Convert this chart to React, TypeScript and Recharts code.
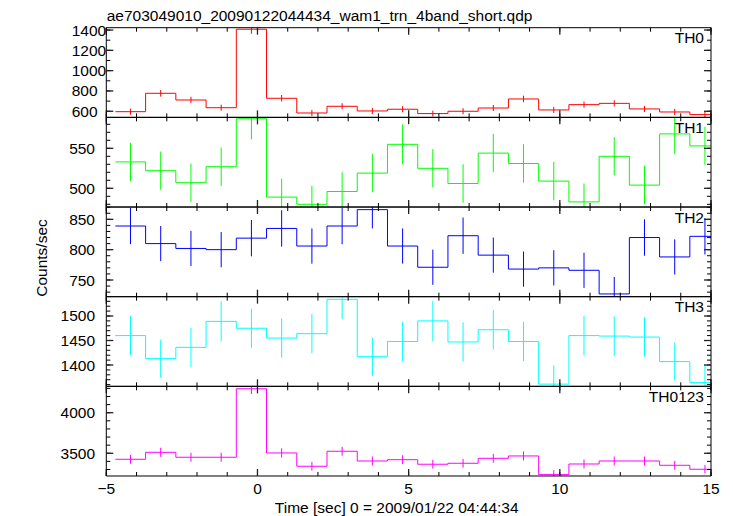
import React from 'react';
import { ComposedChart, Line, Scatter, ErrorBar, XAxis, YAxis } from 'recharts';

const W = 733;
const H = 516;
const FONT = '"Liberation Sans", Arial, Helvetica, sans-serif';
const FS = 15.5;

// plot frame
const PLOT_LEFT = 106.3;
const PLOT_RIGHT = 711;
const PLOT_TOP = 27.7;
const PANEL_H = 89.66;
const EPS = 0.01;

const TITLE = 'ae703049010_20090122044434_wam1_trn_4band_short.qdp';
const X_TITLE = 'Time [sec] 0 = 2009/01/22 04:44:34';
const Y_TITLE = 'Counts/sec';

// 1 s bins
const binCenters = [
  -4.2, -3.2, -2.2, -1.2, -0.2, 0.8, 1.8, 2.8, 3.8, 4.8,
  5.8, 6.8, 7.8, 8.8, 9.8, 10.8, 11.8, 12.8, 13.8, 14.8,
];
const binHalf = 0.5;

const xMajorTicks = [-5, 0, 5, 10, 15];
const xMinorTicks = [-5, -4, -3, -2, -1, 0, 1, 2, 3, 4, 5, 6, 7, 8, 9, 10, 11, 12, 13, 14, 15];

const th0Rate = [596, 777, 711, 635, 1408, 728, 583, 649, 603, 620, 577, 600, 632, 721, 613, 665, 678, 623, 593, 567];
const th0Err = [30, 33, 32, 30, 45, 32, 30, 30, 30, 30, 29, 30, 30, 32, 30, 31, 31, 30, 30, 29];

const th1Rate = [533, 522, 507, 527, 587, 489, 480, 496, 519, 555, 525, 506, 544, 531, 509, 483, 540, 504, 568, 553];
const th1Err = [24, 24, 24, 24, 26, 23, 23, 24, 24, 25, 24, 24, 24, 24, 24, 23, 24, 24, 25, 24];

const th2Rate = [839, 810, 802, 800, 819, 835, 806, 839, 866, 806, 771, 823, 791, 768, 770, 766, 727, 820, 788, 822];
const th2Err = [30, 29, 29, 29, 30, 30, 29, 30, 31, 29, 29, 30, 29, 29, 29, 29, 28, 30, 29, 30];

const th3Rate = [1460, 1413, 1436, 1489, 1475, 1455, 1464, 1534, 1417, 1448, 1490, 1447, 1472, 1448, 1361, 1460, 1459, 1457, 1407, 1364];
const th3Err = [40, 39, 40, 41, 40, 40, 40, 41, 39, 40, 41, 40, 40, 40, 38, 40, 40, 40, 39, 38];

const th0123Rate = [3426, 3512, 3451, 3451, 4295, 3504, 3340, 3525, 3405, 3421, 3365, 3377, 3438, 3467, 3237, 3368, 3405, 3405, 3352, 3303];
const th0123Err = [55, 56, 55, 55, 65, 56, 54, 56, 55, 55, 54, 54, 55, 55, 53, 54, 55, 55, 54, 53];

const range = (a: number, b: number, step: number) => {
  const out: number[] = [];
  for (let v = a; v <= b + 1e-9; v += step) out.push(v);
  return out;
};

const panels = [
  { name: 'TH0', color: '#ff0000', values: th0Rate, errors: th0Err, domain: [540, 1423], major: [600, 800, 1000, 1200, 1400], minor: range(600, 1400, 100), anchor: 'start' },
  { name: 'TH1', color: '#00ff00', values: th1Rate, errors: th1Err, domain: [476.6, 588.7], major: [500, 550], minor: range(480, 580, 10), anchor: 'end' },
  { name: 'TH2', color: '#0000ff', values: th2Rate, errors: th2Err, domain: [722.5, 870.3], major: [750, 800, 850], minor: range(730, 870, 10), anchor: 'end' },
  { name: 'TH3', color: '#00ffff', values: th3Rate, errors: th3Err, domain: [1356.5, 1539.4], major: [1400, 1450, 1500], minor: range(1360, 1530, 10), anchor: 'end' },
  { name: 'TH0123', color: '#ff00ff', values: th0123Rate, errors: th0123Err, domain: [3220, 4325], major: [3500, 4000], minor: range(3300, 4300, 100), anchor: 'end' },
];

const fmtX = (v: number) => (v < 0 ? '\u2212' + Math.abs(v) : String(v));
const noLabel = () => <g />;

function Panel({ p, index }: { p: any; index: number }) {
  const top = PLOT_TOP + index * PANEL_H;
  const bottom = H - top - PANEL_H;
  const isLast = index === panels.length - 1;
  const margin = { top, bottom, left: PLOT_LEFT - EPS, right: W - PLOT_RIGHT };

  // step outline: one point per left bin edge plus closing right edge
  const steps = binCenters.map((c, i) => ({ x: c - binHalf, v: p.values[i] }));
  steps.push({ x: binCenters[binCenters.length - 1] + binHalf, v: p.values[p.values.length - 1] });
  const points = binCenters.map((c, i) => ({ x: c, v: p.values[i], e: p.errors[i] }));

  const frame = { stroke: '#000', strokeWidth: 1 };
  const minorLine = { stroke: '#000', strokeWidth: 1 };
  const majorLine = { stroke: '#222', strokeWidth: 1.3 };
  const xCommon = {
    type: 'number' as const, dataKey: 'x', domain: [-5, 15], allowDataOverflow: true,
    interval: 0 as const, tick: noLabel, height: EPS, mirror: true,
  };
  const yCommon = {
    type: 'number' as const, domain: p.domain, allowDataOverflow: true,
    interval: 0 as const, tick: noLabel, width: EPS, mirror: true,
  };
  const labelMargin = p.anchor === 'start' ? PLOT_LEFT - 71.7 : PLOT_LEFT - 95;
  const clip = `inset(${top}px ${W - PLOT_RIGHT}px ${bottom}px ${PLOT_LEFT}px)`;

  return (
    <>
      {/* data layer, clipped to the panel */}
      <div style={{ position: 'absolute', left: 0, top: 0, clipPath: clip }}>
        <ComposedChart width={W} height={H} data={steps} margin={margin}>
          <XAxis xAxisId="d" type="number" dataKey="x" domain={[-5, 15]} allowDataOverflow hide />
          <YAxis yAxisId="d" type="number" domain={p.domain} allowDataOverflow hide />
          <Line
            xAxisId="d"
            yAxisId="d"
            type="stepAfter"
            dataKey="v"
            stroke={p.color}
            strokeWidth={1}
            dot={false}
            activeDot={false}
            isAnimationActive={false}
          />
          <Scatter xAxisId="d" yAxisId="d" data={points} dataKey="v" shape={() => <g />} isAnimationActive={false}>
            <ErrorBar dataKey="e" direction="y" width={0} stroke={p.color} strokeWidth={1} isAnimationActive={false} />
          </Scatter>
        </ComposedChart>
      </div>
      {/* frame, ticks and labels */}
      <div style={{ position: 'absolute', left: 0, top: 0 }}>
        <ComposedChart width={W} height={H} data={steps} margin={margin}>
          <XAxis xAxisId="b" orientation="bottom" ticks={xMinorTicks} tickSize={4} axisLine={frame} tickLine={minorLine} {...xCommon} />
          <XAxis xAxisId="bM" orientation="bottom" ticks={xMajorTicks} tickSize={7} axisLine={false} tickLine={majorLine} {...xCommon} />
          <XAxis xAxisId="t" orientation="top" ticks={xMinorTicks} tickSize={4} axisLine={frame} tickLine={minorLine} {...xCommon} />
          <XAxis xAxisId="tM" orientation="top" ticks={xMajorTicks} tickSize={7} axisLine={false} tickLine={majorLine} {...xCommon} />
          {isLast && (
            <XAxis
              xAxisId="lab"
              orientation="bottom"
              type="number"
              dataKey="x"
              domain={[-5, 15]}
              allowDataOverflow
              interval={0}
              height={EPS}
              ticks={xMajorTicks}
              tickFormatter={fmtX}
              tick={{ fontSize: FS, fill: '#000' }}
              tickLine={false}
              axisLine={false}
              tickSize={0}
              tickMargin={7.3}
            />
          )}
          <YAxis yAxisId="l" orientation="left" ticks={p.minor} tickSize={4} axisLine={frame} tickLine={minorLine} {...yCommon} />
          <YAxis yAxisId="lM" orientation="left" ticks={p.major} tickSize={7} axisLine={false} tickLine={majorLine} {...yCommon} />
          <YAxis yAxisId="r" orientation="right" ticks={p.minor} tickSize={4} axisLine={frame} tickLine={minorLine} {...yCommon} />
          <YAxis yAxisId="rM" orientation="right" ticks={p.major} tickSize={7} axisLine={false} tickLine={majorLine} {...yCommon} />
          <YAxis
            yAxisId="lab"
            orientation="left"
            type="number"
            domain={p.domain}
            allowDataOverflow
            interval={0}
            width={EPS}
            ticks={p.major}
            tick={{ fontSize: FS, fill: '#000', textAnchor: p.anchor }}
            tickLine={false}
            axisLine={false}
            tickSize={0}
            tickMargin={labelMargin}
          />
        </ComposedChart>
      </div>
    </>
  );
}

export default function App() {
  return (
    <div style={{ position: 'absolute', left: 0, top: 0, width: W, height: H, background: '#fff', fontFamily: FONT }}>
      {panels.map((p, i) => (
        <Panel key={p.name} p={p} index={i} />
      ))}
      <svg width={W} height={H} style={{ position: 'absolute', left: 0, top: 0, pointerEvents: 'none' }}>
        <text x={106.7} y={20.7} fontSize={FS} fill="#000">{TITLE}</text>
        {panels.map((p, i) => (
          <text key={p.name} x={704} y={PLOT_TOP + i * PANEL_H + 15.6} fontSize={FS} fill="#000" textAnchor="end">
            {p.name}
          </text>
        ))}
        <text x={396.7} y={512.5} fontSize={FS} fill="#000" textAnchor="middle">{X_TITLE}</text>
        <text transform="translate(46.5,258) rotate(-90)" fontSize={FS} fill="#000" textAnchor="middle">{Y_TITLE}</text>
      </svg>
    </div>
  );
}
